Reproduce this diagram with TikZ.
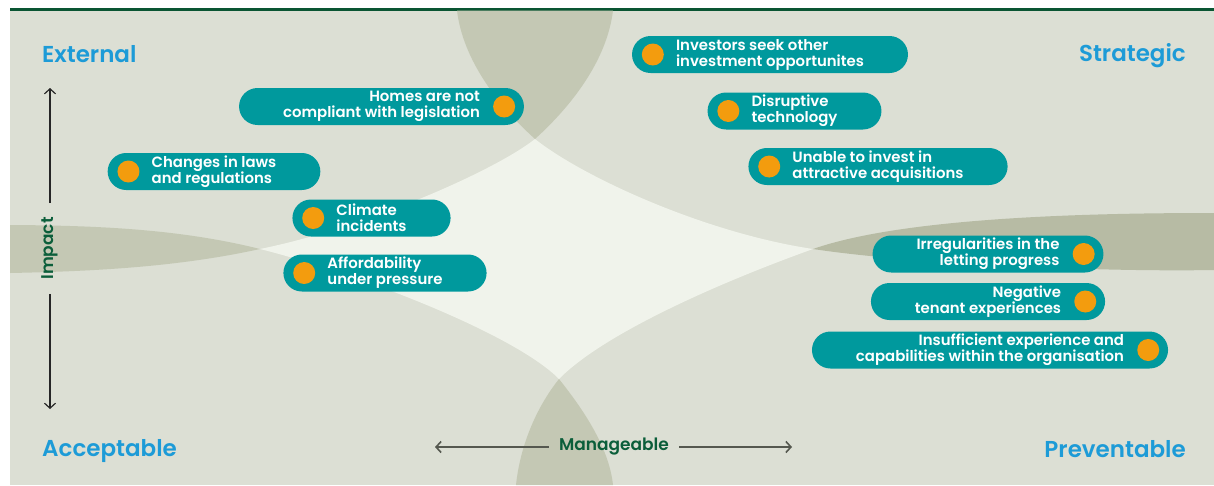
\documentclass[tikz,border=0pt]{standalone}
\usepackage{fontspec}
\setmainfont{Poppins}[BoldFont={Poppins SemiBold}]
\usepackage{tikz}
\usetikzlibrary{arrows.meta, positioning}

\definecolor{panelgray}{HTML}{DCDFD4}
\definecolor{starlight}{HTML}{F0F3EB}
\definecolor{lensgray}{HTML}{C4C8B4}
\definecolor{lensdark}{HTML}{B7BBA4}
\definecolor{riskteal}{HTML}{00999D}
\definecolor{riskorange}{HTML}{F39C0E}
\definecolor{cornerblue}{HTML}{1D9BD7}
\definecolor{axisgreen}{HTML}{0B5E3A}
\definecolor{rulegreen}{HTML}{0A5532}
\definecolor{arrowgray}{HTML}{55584F}

\begin{document}
\begin{tikzpicture}[x=1pt, y=-1pt,
    pill/.style={fill=riskteal, text=white, rounded corners=18.5pt, minimum height=37pt, inner xsep=44pt, inner ysep=2pt, font=\fontsize{14.9}{16}\selectfont\bfseries},
    riskdot/.style={circle, fill=riskorange, minimum size=22pt, inner sep=0pt},
    corner/.style={text=cornerblue, inner sep=0pt, font=\fontsize{23}{26}\selectfont\bfseries},
    axislabel/.style={text=axisgreen, font=\fontsize{17}{20}\selectfont\bfseries},
    >={Straight Barb[length=5pt, width=11pt]}]
                \useasboundingbox (0,0) rectangle (1214,485);
                % Panel and top rule
                \fill[white] (0,0) rectangle (1214,485);
                \fill[panelgray] (10,10.5) rectangle (1214,485);
                \fill[rulegreen] (10,8) rectangle (1214,10.5);

                % Light centre
                \fill[starlight] (260,249) .. controls (368,227) and (496,170) .. (535,139)
                    .. controls (582,176.5) and (704,232.7) .. (813,249)
                    .. controls (710,286) and (601,336) .. (559,379)
                    .. controls (517,336) and (367,276) .. (260,249) -- cycle;
                % Overlaps
                \fill[lensgray] (457,10.5) .. controls (463,60) and (498,105.5) .. (535,139)
                    .. controls (572,105.5) and (607,60) .. (613,10.5) -- cycle;
                \fill[lensgray] (10,225) .. controls (94,225.5) and (178.5,228.6) .. (260,249)
                    .. controls (178,267) and (94,271.3) .. (10,273) -- cycle;
                \fill[lensdark] (813,249) .. controls (907,216) and (1104,213) .. (1214,213)
                    -- (1214,270) .. controls (1100,272) and (912,264) .. (813,249) -- cycle;
                \fill[lensgray] (516,485) .. controls (520,447) and (535.4,408.6) .. (559,379)
                    .. controls (582.6,408.6) and (609,447) .. (613,485) -- cycle;

                % Corners
                \node[corner, anchor=base west] (external) at (42,62) {External};
                \node[corner, anchor=base east] (strategic) at (1186,61) {Strategic};
                \node[corner, anchor=base west] (acceptable) at (42,456) {Acceptable};
                \node[corner, anchor=base east] (preventable) at (1186,457) {Preventable};

                % Impact axis
                \node[axislabel, rotate=90, inner xsep=14pt] (impact) at (50,248.5) {Impact};
                \coordinate (impacttop) at (50,88);
                \coordinate (impactbot) at (50,409);
                \draw[->, black!85, line width=1.2pt] (impact.east) -- (impacttop);
                \draw[->, black!85, line width=1.2pt] (impact.west) -- (impactbot);

                % Manageable axis
                \node[axislabel, inner xsep=10pt] (manage) at (614,447) {Manageable};
                \coordinate (manageleft) at (435,447);
                \coordinate (manageright) at (792,447);
                \draw[->, arrowgray, line width=1.6pt] (manage.west) -- (manageleft);
                \draw[->, arrowgray, line width=1.6pt] (manage.east) -- (manageright);

                % Left risks
                \node[pill, align=right] (homes) at (381.5,106.5) {Homes are not\\compliant with legislation};
                \node[riskdot] (homesdot) at ([xshift=-20pt]homes.east) {};
                \node[pill, align=left] (laws) at (214,171.5) {Changes in laws\\and regulations};
                \node[riskdot] (lawsdot) at ([xshift=21pt]laws.west) {};
                \node[pill, align=left] (climate) at (371.5,218) {Climate\\incidents};
                \node[riskdot] (climatedot) at ([xshift=21pt]climate.west) {};
                \node[pill, align=left] (afford) at (385,273) {Affordability\\under pressure};
                \node[riskdot] (afforddot) at ([xshift=21pt]afford.west) {};

                % Top right risks
                \node[pill, align=left] (investors) at (770,54.5) {Investors seek other\\investment opportunites};
                \node[riskdot] (investorsdot) at ([xshift=21pt]investors.west) {};
                \node[pill, align=left] (disrupt) at (794.5,111) {Disruptive\\technology};
                \node[riskdot] (disruptdot) at ([xshift=21pt]disrupt.west) {};
                \node[pill, align=left] (unable) at (878,166.5) {Unable to invest in\\attractive acquisitions};
                \node[riskdot] (unabledot) at ([xshift=21pt]unable.west) {};

                % Bottom right risks
                \node[pill, align=right] (irregular) at (988,254) {Irregularities in the\\letting progress};
                \node[riskdot] (irregulardot) at ([xshift=-20pt]irregular.east) {};
                \node[pill, align=right] (negative) at (988,301.5) {Negative\\tenant experiences};
                \node[riskdot] (negativedot) at ([xshift=-20pt]negative.east) {};
                \node[pill, align=right] (insufficient) at (990,350) {Insufficient experience and\\capabilities within the organisation};
                \node[riskdot] (insufficientdot) at ([xshift=-20pt]insufficient.east) {};

            \end{tikzpicture}
\end{document}
